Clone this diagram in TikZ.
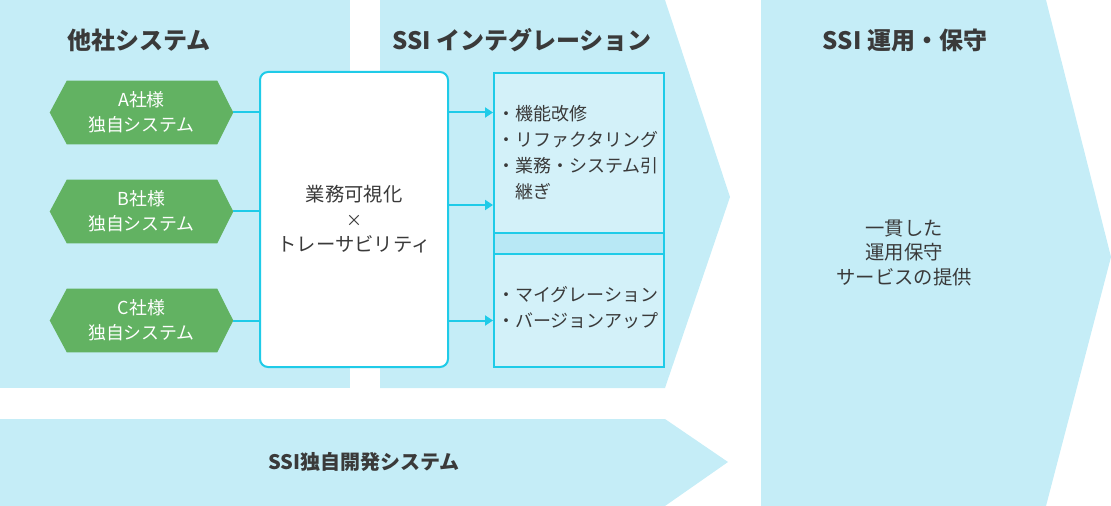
\documentclass[tikz,border=0pt]{standalone}
\usepackage{fontspec}
\setmainfont{Noto Sans CJK JP}
\usetikzlibrary{calc,arrows.meta}
\definecolor{panel}{HTML}{C5EDF7}
\definecolor{boxfill}{HTML}{D3F1F9}
\definecolor{strip}{HTML}{B8E8F5}
\definecolor{hexgreen}{HTML}{62B262}
\definecolor{cyanline}{HTML}{1FCBE8}
\definecolor{txt}{HTML}{3A3A3A}
\tikzset{
  title/.style={font=\fontsize{18}{21}\selectfont\bfseries, text=txt, inner sep=0pt},
  body/.style={font=\fontsize{13.5}{19.5}\selectfont, text=txt, inner sep=0pt},
  bigbody/.style={font=\fontsize{14.5}{18.5}\selectfont, text=txt, inner sep=0pt, align=center},
  hexnode/.style={minimum width=137.25pt, minimum height=47.25pt, inner sep=0pt,
    font=\fontsize{13.4}{19}\selectfont, text=white, align=center},
  conn/.style={draw=cyanline, line width=1.5pt},
  arr/.style={conn, -{Triangle[length=6pt,width=7.5pt]}},
}
\begin{document}
\begin{tikzpicture}[x=0.75pt,y=-0.75pt]
\useasboundingbox (0,0) rectangle (1111,506);
% panels
\fill[panel] (0,0) rectangle (350,388);
\fill[panel] (380,0) -- (665,0) -- (730,197) -- (665,388) -- (380,388) -- cycle;
\fill[panel] (761,0) -- (1046,0) -- (1111,257) -- (1046,506) -- (761,506) -- cycle;
\fill[panel] (0,419) -- (665,419) -- (728,462) -- (665,506) -- (0,506) -- cycle;
% titles
\node[title] (t1) at (139,40) {他社システム};
\node[title] (t2) at (522,40) {SSI インテグレーション};
\node[title] (t3) at (905,40) {SSI 運用・保守};
\node[title, font=\fontsize{15}{18}\selectfont\bfseries] (t4) at (364,462) {SSI独自開発システム};
% hexagons
\foreach \n/\y/\l in {a/112.5/A, b/211.5/B, c/320.5/C}{
  \node[hexnode] (\n) at (141.5,\y) {};
  \fill[hexgreen] (\n.west) -- ($(\n.north west)+(17,0)$) -- ($(\n.north east)+(-16,0)$)
     -- (\n.east) -- ($(\n.south east)+(-16,0)$) -- ($(\n.south west)+(17,0)$) -- cycle;
  \node[hexnode] at (\n) {\l 社様\\独自システム};
}
% center box
\node[draw=cyanline, line width=1.5pt, fill=white, rounded corners=6pt,
  minimum width=141pt, minimum height=221.25pt, inner sep=0pt] (box) at (354,219.5) {};
\node[bigbody] (boxtext) at (354,219) {業務可視化\\{\fontsize{12}{18.5}\selectfont ×}\\トレーサビリティ};
% right boxes
\node[draw=cyanline, line width=1.5pt, fill=boxfill, minimum width=127.5pt,
  minimum height=120pt, inner sep=0pt] (top) at (579,153) {};
\node[draw=cyanline, line width=1.5pt, fill=strip, minimum width=127.5pt,
  minimum height=15.75pt, inner sep=0pt] (mid) at (579,243.5) {};
\node[draw=cyanline, line width=1.5pt, fill=boxfill, minimum width=127.5pt,
  minimum height=84.75pt, inner sep=0pt] (bot) at (579,310.5) {};
\node[body, anchor=west] (toptext) at (497,154) {%
  \begin{tabular}{@{}l@{}l@{}}
  ・&機能改修\\
  ・&リファクタリング\\
  ・&業務・システム引\\
   &継ぎ
  \end{tabular}};
\node[body, anchor=west] (bottext) at (497,309) {%
  \begin{tabular}{@{}l@{}l@{}}
  ・&マイグレーション\\
  ・&バージョンアップ
  \end{tabular}};
% panel 3 text
\node[bigbody] (svc) at (904,253) {一貫した\\運用保守\\サービスの提供};
% connectors
\draw[conn] (a.east) -- (box.west |- a.east);
\draw[conn] (b.east) -- (box.west |- b.east);
\draw[conn] (c.east) -- (box.west |- c.east);
\draw[arr] (box.east |- a.east) -- (top.west |- a.east);
\draw[arr] (box.east |- 0,205) -- (top.west |- 0,205);
\draw[arr] (box.east |- c.east) -- (bot.west |- c.east);
\end{tikzpicture}
\end{document}
